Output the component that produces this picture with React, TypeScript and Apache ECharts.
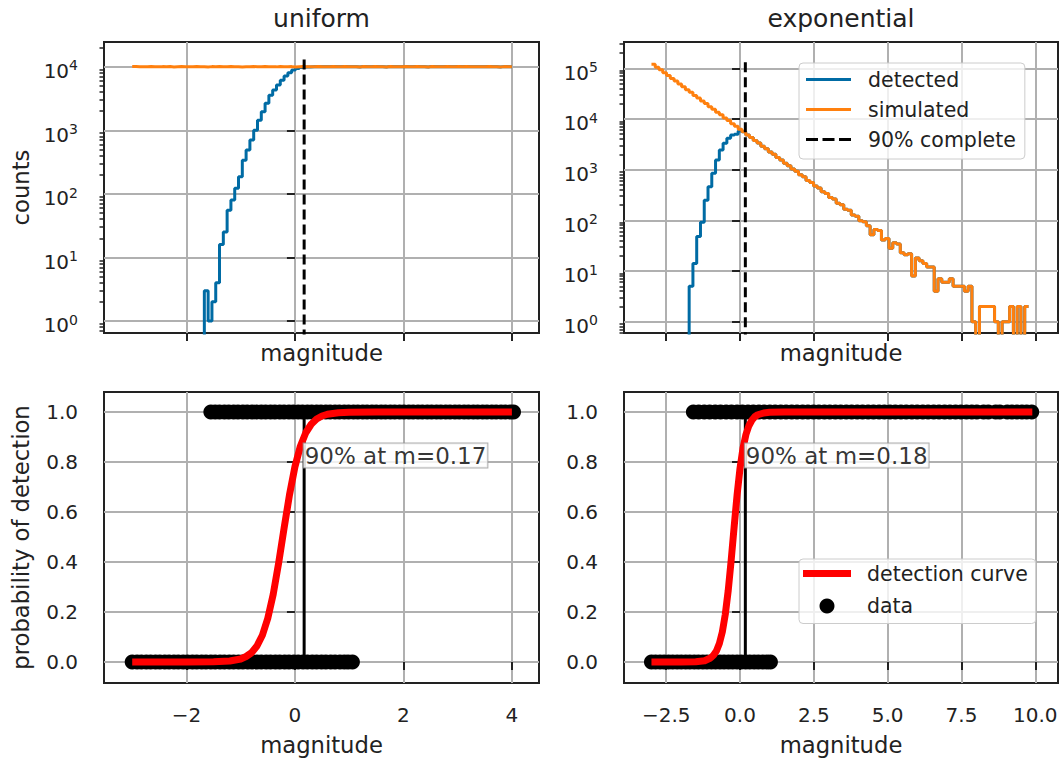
import React, { useEffect, useRef } from "react";
import * as echarts from "echarts";

// ---------------- data ----------------
const M90_UNIFORM = 0.17;
const M90_EXPONENTIAL = 0.18;

// uniform magnitudes: 100 bins from -3 to 4
const UNIFORM_BIN_START = -3.0;
const UNIFORM_BIN_WIDTH = 0.07;
const UNIFORM_SIMULATED = [
  10050, 9990, 10020, 9970, 10060, 10010, 9940, 10030, 9980, 10070,
  9890, 10000, 10040, 9960, 10020, 9990, 10050, 9970, 10010, 9930,
  10030, 9980, 10060, 10000, 9950, 10040, 9990, 10020, 9880, 10010,
  9970, 10050, 10000, 9960, 10030, 9990, 10020, 9940, 10060, 10000,
  9980, 10030, 9870, 10010, 10040, 9970, 10020, 9990, 10050, 9960,
  10010, 9980, 10030, 10000, 9950, 10060, 9990, 10020, 9970, 9860,
  10040, 10000, 9980, 10030, 9960, 10010, 9900, 10050, 9990, 10020,
  9970, 10040, 10000, 9950, 10030, 9980, 10010, 9890, 10060, 9990,
  10020, 9970, 10040, 10000, 9960, 10030, 9990, 10050, 9980, 10010,
  9940, 10020, 9990, 10040, 9970, 10010, 9880, 10030, 10000, 9960,
];
const UNIFORM_EMPTY_BINS = 19;
const UNIFORM_DETECTED_RISE = [
  3, 1, 2, 4, 16, 25, 55, 80, 122, 186, 339, 490, 700, 1000, 1440, 1960, 2650,
  3570, 4300, 5140, 6140, 7130, 8000, 8870, 9400, 9700, 9850, 9920, 9960, 9980,
];

// exponential magnitudes: 100 bins from -3 to 9.77
const EXP_BIN_START = -3.0;
const EXP_BIN_WIDTH = 0.1277;
const EXP_SIMULATED = [
  120500, 105200, 93600, 81400, 72300, 63000, 55900, 48700, 43400, 37600,
  33500, 29100, 25900, 22500, 20100, 17400, 15600, 13500, 12050, 10400,
  9310, 8080, 7210, 6260, 5570, 4830, 4320, 3740, 3340, 2890,
  2580, 2230, 2010, 1730, 1550, 1330, 1200, 1030, 930, 795,
  720, 612, 560, 475, 433, 366, 338, 281, 262, 217,
  203, 166, 158, 128, 121, 98, 94, 78, 52, 66,
  63, 41, 44, 28, 36, 34, 23, 21, 22, 8,
  18, 16, 14, 12, 12, 4, 7, 6, 6, 7,
  5, 5, 5, 4, 5, 1, 0, 2, 2, 2,
  2, 1, 0, 1, 1, 2, 0, 2, 0, 2,
];
const EXP_EMPTY_BINS = 10;
const EXP_DETECTED_RISE = [5, 14, 48, 92, 250, 460, 850, 1550, 2450, 3310, 4160, 4800, 5000, 5800];

const VLINE_TOP_UNIFORM = 14300;
const VLINE_TOP_EXP = 157000;

// detection fits (bottom row)
const UNIFORM_CURVE_M = [-3.0, -2.0, -1.5, -1.2, -1.0, -0.9, -0.8, -0.7, -0.6, -0.5, -0.4, -0.3, -0.2, -0.1, 0.0, 0.1, 0.2, 0.3, 0.4, 0.5, 0.6, 0.8, 1.0, 1.5, 2.0, 3.0, 4.0];
const UNIFORM_CURVE_P = [0.0, 0.0, 0.001, 0.004, 0.012, 0.022, 0.037, 0.064, 0.107, 0.175, 0.271, 0.396, 0.535, 0.669, 0.781, 0.863, 0.917, 0.951, 0.972, 0.984, 0.991, 0.997, 0.999, 1.0, 1.0, 1.0, 1.0];
const EXP_CURVE_M = [-3.0, -2.0, -1.5, -1.2, -1.0, -0.9, -0.8, -0.7, -0.6, -0.5, -0.4, -0.3, -0.2, -0.1, 0.0, 0.1, 0.2, 0.3, 0.4, 0.5, 0.6, 0.8, 1.0, 1.5, 2.5, 5.0, 7.5, 9.9];
const EXP_CURVE_P = [0.0, 0.0, 0.001, 0.005, 0.016, 0.027, 0.044, 0.074, 0.12, 0.19, 0.286, 0.407, 0.54, 0.668, 0.775, 0.855, 0.91, 0.945, 0.967, 0.981, 0.989, 0.996, 0.999, 1.0, 1.0, 1.0, 1.0, 1.0];

// detection outcomes (0 = missed, 1 = detected)
const UNIFORM_MISSED_M = [
  -3.0, -2.91, -2.83, -2.74, -2.66, -2.57, -2.49, -2.4, -2.32, -2.23, -2.15, -2.06, -1.98, -1.89, -1.81, -1.72,
  -1.64, -1.55, -1.47, -1.38, -1.3, -1.21, -1.13, -1.04, -0.96, -0.87, -0.79, -0.7, -0.62, -0.53, -0.45, -0.36,
  -0.28, -0.19, -0.11, -0.02, 0.06, 0.15, 0.23, 0.32, 0.4, 0.49, 0.57, 0.66, 0.74, 0.83, 0.91, 0.98, 1.06,
];
const UNIFORM_FOUND_M = [
  -1.55, -1.47, -1.39, -1.3, -1.22, -1.13, -1.05, -0.96, -0.88, -0.79, -0.71, -0.62, -0.54, -0.45, -0.37, -0.28,
  -0.2, -0.11, -0.03, 0.06, 0.14, 0.23, 0.31, 0.4, 0.48, 0.57, 0.65, 0.74, 0.82, 0.91, 0.99, 1.08, 1.16, 1.25,
  1.33, 1.42, 1.5, 1.59, 1.67, 1.76, 1.84, 1.93, 2.01, 2.1, 2.18, 2.27, 2.35, 2.44, 2.52, 2.61, 2.69, 2.78, 2.86,
  2.95, 3.03, 3.12, 3.2, 3.29, 3.37, 3.46, 3.54, 3.63, 3.71, 3.8, 3.88, 3.97, 4.03,
];
const EXP_MISSED_M = [
  -3.0, -2.86, -2.71, -2.57, -2.42, -2.28, -2.13, -1.99, -1.84, -1.7, -1.55, -1.41, -1.26, -1.12, -0.97,
  -0.83, -0.68, -0.54, -0.39, -0.25, -0.1, 0.04, 0.19, 0.33, 0.48, 0.62, 0.77, 0.91, 1.03,
];
const EXP_FOUND_M = [
  -1.58, -1.4, -1.21, -1.03, -0.84, -0.66, -0.47, -0.29, -0.1, 0.08, 0.27, 0.45, 0.64, 0.82, 1.01, 1.19, 1.38,
  1.56, 1.75, 1.93, 2.12, 2.3, 2.49, 2.67, 2.86, 3.04, 3.23, 3.41, 3.6, 3.78, 3.97, 4.15, 4.34, 4.52, 4.71,
  4.89, 5.08, 5.26, 5.45, 5.63, 5.82, 6.0, 6.19, 6.37, 6.56, 6.74, 6.93, 7.11, 7.3, 7.48, 7.67, 7.85, 8.02,
  8.25, 8.41, 8.66, 8.8, 9.05, 9.21, 9.38, 9.55, 9.71, 9.88,
];

// axes
const X_RANGE_UNIFORM = [-3.52, 4.5];
const X_RANGE_EXP = [-3.93, 10.77];
const Y_RANGE_LOG_UNIFORM = [0.647, 24470];
const Y_RANGE_LOG_EXP = [0.598, 330000];
const Y_RANGE_PROB = [-0.084, 1.08];
const X_TICKS_UNIFORM = [-2, 0, 2, 4];
const X_TICKS_EXP = [-2.5, 0, 2.5, 5, 7.5, 10];
const Y_TICKS_LOG_UNIFORM = [1, 10, 100, 1000, 10000];
const Y_TICKS_LOG_EXP = [1, 10, 100, 1000, 10000, 100000];
const Y_TICKS_PROB = [0, 0.2, 0.4, 0.6, 0.8, 1.0];
const MINOR_MULTIPLES = [2, 3, 4, 5, 6, 7, 8, 9];
const DECADES = [0.1, 1, 10, 100, 1000, 10000, 100000];

// ---------------- style ----------------
const FONT = "'DejaVu Sans', sans-serif";
const INK = "#222222";
const GRID_GRAY = "#b0b0b0";
const BLUE = "#006BA4";
const ORANGE = "#FF800E";
const LINE_W = 3;
const ZERO_FLOOR = 0.1; // empty bins drawn below the axis floor (clipped)

const GRIDS = [
  { left: 104, top: 42, width: 435, height: 291 },
  { left: 624, top: 42, width: 434, height: 291 },
  { left: 104, top: 392, width: 435, height: 291 },
  { left: 624, top: 392, width: 434, height: 291 },
];

function histSteps(start: number, width: number, counts: number[]) {
  const pts = counts.map((c, i) => [start + width * i, c > 0 ? c : ZERO_FLOOR]);
  const last = counts[counts.length - 1];
  pts.push([start + width * counts.length, last > 0 ? last : ZERO_FLOOR]);
  return pts;
}

function minorTicks(range: number[]) {
  const out: number[] = [];
  DECADES.forEach((d) => MINOR_MULTIPLES.forEach((m) => {
    const v = m * d;
    if (v >= range[0] && v <= range[1]) out.push(v);
  }));
  return out;
}

const minusFmt = (digits: number) => (v: number) => {
  const s = Math.abs(v).toFixed(digits);
  return v < 0 ? "\u2212" + s : s;
};

function xAxisFor(gridIndex: number, range: number[], ticks: number[], showLabels: boolean, digits: number) {
  return {
    type: "value",
    gridIndex,
    min: range[0],
    max: range[1],
    position: "bottom",
    name: "magnitude",
    nameLocation: "middle",
    nameGap: showLabels ? 50 : 8,
    nameTextStyle: { fontSize: 22.7, fontFamily: FONT, color: INK },
    axisLine: { show: false },
    axisTick: { show: true, customValues: ticks, length: 8, lineStyle: { color: INK, width: 2 } },
    axisLabel: {
      show: showLabels,
      customValues: ticks,
      formatter: minusFmt(digits),
      fontSize: 20,
      fontFamily: FONT,
      color: INK,
      margin: 22,
    },
    splitLine: { show: true, lineStyle: { color: GRID_GRAY, width: 2 } },
  };
}

function logAxisFor(gridIndex: number, range: number[], ticks: number[], name: string) {
  return {
    type: "log",
    logBase: 10,
    gridIndex,
    min: range[0],
    max: range[1],
    position: "left",
    name,
    nameLocation: "middle",
    nameGap: 72,
    nameTextStyle: { fontSize: 22.7, fontFamily: FONT, color: INK },
    axisLine: { show: false },
    axisTick: { show: true, customValues: ticks, length: 8, lineStyle: { color: INK, width: 2 } },
    axisLabel: {
      customValues: ticks,
      margin: 26,
      padding: [6, 0, 0, 0],
      formatter: (v: number) => `{b|10}{s|${Math.round(Math.log10(v))}}`,
      rich: {
        b: { fontSize: 20, fontFamily: FONT, color: INK, verticalAlign: "bottom", padding: [2.5, 0, 0, 0] },
        s: { fontSize: 14, fontFamily: FONT, color: INK, verticalAlign: "top" },
      },
    },
    splitLine: { show: true, lineStyle: { color: GRID_GRAY, width: 2 } },
  };
}

function minorAxisFor(gridIndex: number, range: number[]) {
  return {
    type: "log",
    logBase: 10,
    gridIndex,
    min: range[0],
    max: range[1],
    position: "left",
    axisLine: { show: false },
    axisTick: { show: true, customValues: minorTicks(range), length: 4.5, lineStyle: { color: INK, width: 1.5 } },
    axisLabel: { show: false },
    splitLine: { show: false },
  };
}

function probAxisFor(gridIndex: number, name: string) {
  return {
    type: "value",
    gridIndex,
    min: Y_RANGE_PROB[0],
    max: Y_RANGE_PROB[1],
    position: "left",
    name,
    nameLocation: "middle",
    nameGap: 72,
    nameTextStyle: { fontSize: 22.7, fontFamily: FONT, color: INK },
    axisLine: { show: false },
    axisTick: { show: true, customValues: Y_TICKS_PROB, length: 8, lineStyle: { color: INK, width: 2 } },
    axisLabel: {
      customValues: Y_TICKS_PROB,
      formatter: minusFmt(1),
      fontSize: 20,
      fontFamily: FONT,
      color: INK,
      margin: 26,
    },
    splitLine: { show: true, lineStyle: { color: GRID_GRAY, width: 2 } },
  };
}

function histSeries(axis: number, name: string, color: string, data: number[][], z: number) {
  return {
    type: "line",
    name,
    xAxisIndex: axis,
    yAxisIndex: axis,
    data,
    step: "end",
    symbol: "none",
    color,
    lineStyle: { color, width: LINE_W },
    clip: true,
    z,
  };
}

function bottomSeries(axis: number, m90: number, curveM: number[], curveP: number[], missed: number[], found: number[]) {
  return [
    {
      type: "line",
      name: "90% line",
      xAxisIndex: axis,
      yAxisIndex: axis,
      data: [[m90, 0], [m90, 1]],
      symbol: "none",
      color: "#000000",
      lineStyle: { color: "#000000", width: LINE_W },
      z: 1,
    },
    {
      type: "scatter",
      name: "data",
      xAxisIndex: axis,
      yAxisIndex: axis,
      data: [...missed.map((m) => [m, 0]), ...found.map((m) => [m, 1])],
      symbol: "circle",
      symbolSize: 15,
      color: "#000000",
      itemStyle: { color: "#000000", opacity: 1 },
      z: 2,
    },
    {
      type: "line",
      name: "detection curve",
      xAxisIndex: axis,
      yAxisIndex: axis,
      data: curveM.map((m, i) => [m, curveP[i]]),
      symbol: "none",
      color: "#ff0000",
      lineStyle: { color: "#ff0000", width: 7, cap: "butt", join: "round" },
      z: 3,
    },
    {
      type: "scatter",
      name: "annotation",
      xAxisIndex: axis,
      yAxisIndex: axis,
      data: [[m90, 0.8]],
      symbolSize: 1,
      itemStyle: { color: "rgba(0,0,0,0)" },
      z: 10,
      label: {
        show: true,
        position: [0, 0],
        align: "left",
        verticalAlign: "bottom",
        offset: [0, 6],
        formatter: `90% at m=${m90.toFixed(2)}`,
        fontSize: 23,
        fontFamily: FONT,
        color: "#000000",
        backgroundColor: "#ffffff",
        borderColor: "#999999",
        borderWidth: 1,
        padding: [1, 1, 0, 1],
      },
    },
  ];
}

const ICON_SOLID = "path://M0,0h45v3h-45z";
const ICON_DASHED = "path://M0,0h12v3h-12zM16.5,0h12v3h-12zM33,0h12v3h-12z";
const ICON_THICK = "path://M0,0h48v7h-48z";

export default function App() {
  const ref = useRef<HTMLDivElement>(null);
  useEffect(() => {
    document.body.style.margin = "0";
    if (!ref.current) return;
    const chart = echarts.init(ref.current, undefined, { renderer: "svg" });

    const uniformDetected = [
      ...new Array(UNIFORM_EMPTY_BINS).fill(0),
      ...UNIFORM_DETECTED_RISE,
      ...UNIFORM_SIMULATED.slice(UNIFORM_EMPTY_BINS + UNIFORM_DETECTED_RISE.length),
    ];
    const expDetected = [
      ...new Array(EXP_EMPTY_BINS).fill(0),
      ...EXP_DETECTED_RISE,
      ...EXP_SIMULATED.slice(EXP_EMPTY_BINS + EXP_DETECTED_RISE.length),
    ];

    const option = {
      animation: false,
      textStyle: { fontFamily: FONT },
      grid: GRIDS.map((g) => ({ ...g, show: true, borderColor: INK, borderWidth: 2, backgroundColor: "transparent" })),
      graphic: [
        { type: "text", x: 321.5, y: 18, style: { text: "uniform", fontSize: 25, fontFamily: FONT, fill: INK, align: "center", verticalAlign: "middle" } },
        { type: "text", x: 841, y: 18, style: { text: "exponential", fontSize: 25, fontFamily: FONT, fill: INK, align: "center", verticalAlign: "middle" } },
      ],
      legend: [
        {
          orient: "vertical",
          left: 799,
          top: 63,
          padding: [6, 9, 9, 7],
          itemWidth: 45,
          itemHeight: 20,
          itemGap: 9,
          backgroundColor: "rgba(255,255,255,0.8)",
          borderColor: "#cccccc",
          borderWidth: 1,
          borderRadius: 4,
          textStyle: { fontSize: 20.5, fontFamily: FONT, color: INK, padding: [0, 0, 0, 12] },
          data: [
            { name: "detected", icon: ICON_SOLID },
            { name: "simulated", icon: ICON_SOLID },
            { name: "90% complete", icon: ICON_DASHED },
          ],
        },
        {
          orient: "vertical",
          left: 799,
          top: 559,
          padding: [4, 8, 7, 4],
          itemWidth: 48,
          itemHeight: 15,
          itemGap: 11.5,
          backgroundColor: "rgba(255,255,255,0.8)",
          borderColor: "#cccccc",
          borderWidth: 1,
          borderRadius: 4,
          textStyle: { fontSize: 20.5, fontFamily: FONT, color: INK, padding: [0, 0, 0, 11] },
          data: [
            { name: "detection curve", icon: ICON_THICK },
            { name: "data", icon: "circle", itemStyle: { opacity: 1 } },
          ],
        },
      ],
      xAxis: [
        xAxisFor(0, X_RANGE_UNIFORM, X_TICKS_UNIFORM, false, 0),
        xAxisFor(1, X_RANGE_EXP, X_TICKS_EXP, false, 1),
        xAxisFor(2, X_RANGE_UNIFORM, X_TICKS_UNIFORM, true, 0),
        xAxisFor(3, X_RANGE_EXP, X_TICKS_EXP, true, 1),
      ],
      yAxis: [
        logAxisFor(0, Y_RANGE_LOG_UNIFORM, Y_TICKS_LOG_UNIFORM, "counts"),
        logAxisFor(1, Y_RANGE_LOG_EXP, Y_TICKS_LOG_EXP, ""),
        probAxisFor(2, "probability of detection"),
        probAxisFor(3, ""),
        minorAxisFor(0, Y_RANGE_LOG_UNIFORM),
        minorAxisFor(1, Y_RANGE_LOG_EXP),
      ],
      series: [
        histSeries(0, "detected", BLUE, histSteps(UNIFORM_BIN_START, UNIFORM_BIN_WIDTH, uniformDetected), 2),
        histSeries(0, "simulated", ORANGE, histSteps(UNIFORM_BIN_START, UNIFORM_BIN_WIDTH, UNIFORM_SIMULATED), 3),
        {
          type: "line", name: "90% complete", xAxisIndex: 0, yAxisIndex: 0,
          data: [[M90_UNIFORM, ZERO_FLOOR], [M90_UNIFORM, VLINE_TOP_UNIFORM]],
          symbol: "none", color: "#000000", lineStyle: { color: "#000000", width: LINE_W, type: [10, 5] }, z: 4,
        },
        histSeries(1, "detected", BLUE, histSteps(EXP_BIN_START, EXP_BIN_WIDTH, expDetected), 2),
        histSeries(1, "simulated", ORANGE, histSteps(EXP_BIN_START, EXP_BIN_WIDTH, EXP_SIMULATED), 3),
        {
          type: "line", name: "90% complete", xAxisIndex: 1, yAxisIndex: 1,
          data: [[M90_EXPONENTIAL, ZERO_FLOOR], [M90_EXPONENTIAL, VLINE_TOP_EXP]],
          symbol: "none", color: "#000000", lineStyle: { color: "#000000", width: LINE_W, type: [10, 5] }, z: 4,
        },
        ...bottomSeries(2, M90_UNIFORM, UNIFORM_CURVE_M, UNIFORM_CURVE_P, UNIFORM_MISSED_M, UNIFORM_FOUND_M),
        ...bottomSeries(3, M90_EXPONENTIAL, EXP_CURVE_M, EXP_CURVE_P, EXP_MISSED_M, EXP_FOUND_M),
      ],
    };
    chart.setOption(option as any);
    return () => chart.dispose();
  }, []);
  return <div ref={ref} style={{ width: 1063, height: 764 }} />;
}
